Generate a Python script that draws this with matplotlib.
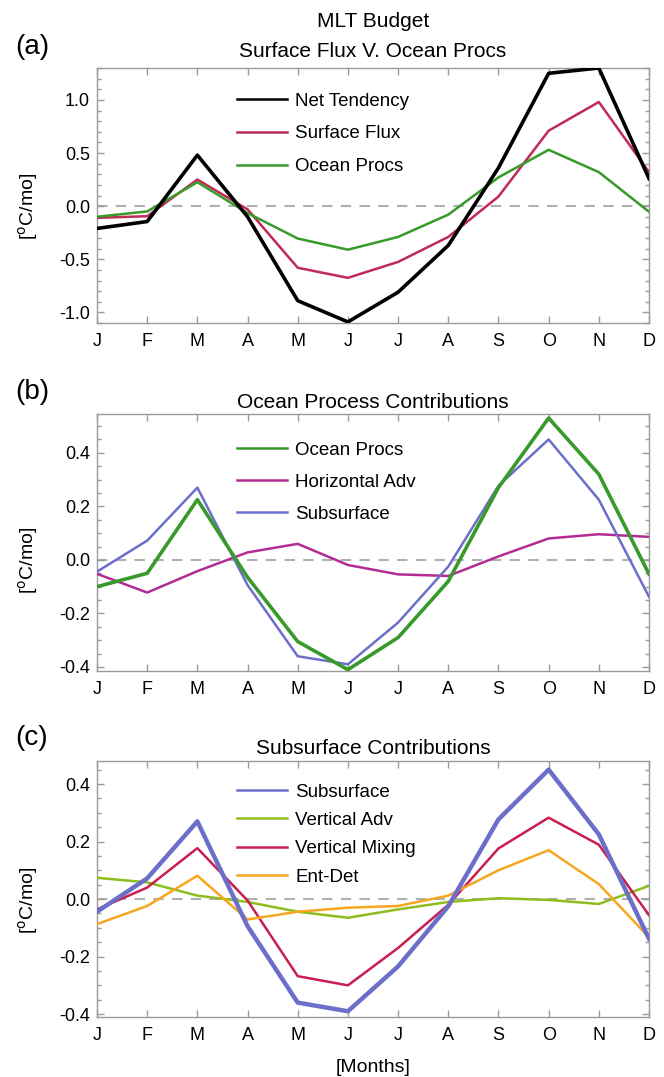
import numpy as np
import matplotlib
matplotlib.use("Agg")
import matplotlib.pyplot as plt
from matplotlib.lines import Line2D
from matplotlib.ticker import MultipleLocator

plt.rcParams['font.family'] = ['Liberation Sans', 'DejaVu Sans']

months = ['J', 'F', 'M', 'A', 'M', 'J', 'J', 'A', 'S', 'O', 'N', 'D']

# panel (a) - MLT budget
net_tend = [-0.21, -0.145, 0.48, -0.10, -0.89, -1.09, -0.81, -0.37, 0.36, 1.25, 1.30, 0.26]
surf_flux = [-0.11, -0.095, 0.25, -0.03, -0.58, -0.675, -0.525, -0.29, 0.09, 0.71, 0.98, 0.32]
ocean_procs = [-0.10, -0.05, 0.225, -0.065, -0.305, -0.41, -0.29, -0.08, 0.27, 0.53, 0.32, -0.053]

# panel (b) - ocean process contributions
horiz_adv = [-0.052, -0.122, -0.042, 0.028, 0.06, -0.019, -0.054, -0.06, 0.013, 0.08, 0.096, 0.086]
subsurface = [-0.044, 0.072, 0.27, -0.094, -0.36, -0.39, -0.234, -0.025, 0.277, 0.45, 0.225, -0.138]

# panel (c) - subsurface contributions
vert_adv = [0.074, 0.058, 0.012, -0.01, -0.044, -0.065, -0.036, -0.01, 0.003, -0.003, -0.017, 0.046]
vert_mix = [-0.036, 0.04, 0.177, -0.005, -0.268, -0.30, -0.17, -0.02, 0.176, 0.283, 0.189, -0.056]
ent_det = [-0.087, -0.024, 0.081, -0.071, -0.044, -0.03, -0.024, 0.012, 0.10, 0.17, 0.052, -0.133]

c_black = 'black'
c_sflux = '#c02a55'
c_ocean = '#379a2a'
c_hadv = '#b22c94'
c_subs = '#6c6fc9'
c_vadv = '#8dbd1e'
c_vmix = '#c81e50'
c_ent = '#f6a620'
frame_col = '#9a9a9a'

W, H = 664, 1077
fig = plt.figure(figsize=(W / 100, H / 100), dpi=100)

left = 97 / W
width = 552 / W

def make_ax(top, bottom):
    return fig.add_axes([left, 1 - bottom / H, width, (bottom - top) / H])

ax_a = make_ax(68, 323)
ax_b = make_ax(414, 671)
ax_c = make_ax(761, 1017)

x = np.arange(len(months))

def style(ax, ylim, major, minor, ylab_y):
    ax.set_xlim(0, 11)
    ax.set_ylim(*ylim)
    ax.set_xticks(x)
    ax.set_xticklabels(months, fontsize=13)
    ax.yaxis.set_major_locator(MultipleLocator(major))
    ax.yaxis.set_minor_locator(MultipleLocator(minor))
    ax.yaxis.set_major_formatter(plt.FuncFormatter(lambda v, p: f"{v:.1f}"))
    ax.tick_params(axis='both', which='both', direction='in', top=True, right=True,
                   color=frame_col, width=1)
    ax.tick_params(axis='both', which='major', length=5)
    ax.tick_params(axis='both', which='minor', length=2.8)
    ax.tick_params(axis='y', labelsize=13, pad=5)
    ax.tick_params(axis='x', pad=7)
    for s in ax.spines.values():
        s.set_color(frame_col)
        s.set_linewidth(1)
    ax.axhline(0, color='#b0b0b0', lw=1.5, ls=(0, (5, 4)), zorder=1)
    ax.set_ylabel('[$^{\\rm o}$C/mo]', fontsize=14)
    ax.yaxis.set_label_coords(-0.103, ylab_y)

def legend(ax, items, anchor_y, spacing):
    handles = [Line2D([], [], color=c, lw=1.8) for c, _ in items]
    labels = [l for _, l in items]
    ax.legend(handles, labels, loc='upper left', bbox_to_anchor=(0.2536, anchor_y),
              frameon=False, fontsize=13.5, handlelength=2.67, handletextpad=0.45,
              labelspacing=spacing, borderpad=0, borderaxespad=0)

# (a)
ax_a.plot(x, surf_flux, color=c_sflux, lw=1.8, zorder=3)
ax_a.plot(x, ocean_procs, color=c_ocean, lw=1.8, zorder=3)
ax_a.plot(x, net_tend, color=c_black, lw=2.6, zorder=4)
style(ax_a, (-1.1, 1.3), 0.5, 0.1, 0.459)
legend(ax_a, [(c_black, 'Net Tendency'), (c_sflux, 'Surface Flux'), (c_ocean, 'Ocean Procs')],
       0.904, 0.84)
ax_a.set_title('Surface Flux V. Ocean Procs', fontsize=15, pad=8)
ax_a.text(0.5, 1 + 41 / 255, 'MLT Budget', transform=ax_a.transAxes, ha='center',
          va='baseline', fontsize=15)

# (b)
ax_b.plot(x, horiz_adv, color=c_hadv, lw=1.8, zorder=3)
ax_b.plot(x, subsurface, color=c_subs, lw=1.8, zorder=3)
ax_b.plot(x, ocean_procs, color=c_ocean, lw=2.6, zorder=4)
style(ax_b, (-0.415, 0.545), 0.2, 0.05, 0.432)
legend(ax_b, [(c_ocean, 'Ocean Procs'), (c_hadv, 'Horizontal Adv'), (c_subs, 'Subsurface')],
       0.893, 0.8)
ax_b.set_title('Ocean Process Contributions', fontsize=15, pad=4)

# (c)
ax_c.plot(x, vert_adv, color=c_vadv, lw=1.8, zorder=3)
ax_c.plot(x, vert_mix, color=c_vmix, lw=1.8, zorder=3)
ax_c.plot(x, ent_det, color=c_ent, lw=1.8, zorder=3)
ax_c.plot(x, subsurface, color=c_subs, lw=3.2, zorder=4)
style(ax_c, (-0.41, 0.48), 0.2, 0.05, 0.457)
legend(ax_c, [(c_subs, 'Subsurface'), (c_vadv, 'Vertical Adv'), (c_vmix, 'Vertical Mixing'),
              (c_ent, 'Ent-Det')], 0.912, 0.6)
ax_c.set_title('Subsurface Contributions', fontsize=15, pad=5)
ax_c.set_xlabel('[Months]', fontsize=14, labelpad=11)

# panel letters
for lab, yc in [('(a)', 47), ('(b)', 392), ('(c)', 738)]:
    fig.text(15 / W, 1 - yc / H, lab, ha='left', va='center', fontsize=20)

fig.savefig('out.png', dpi=100)
